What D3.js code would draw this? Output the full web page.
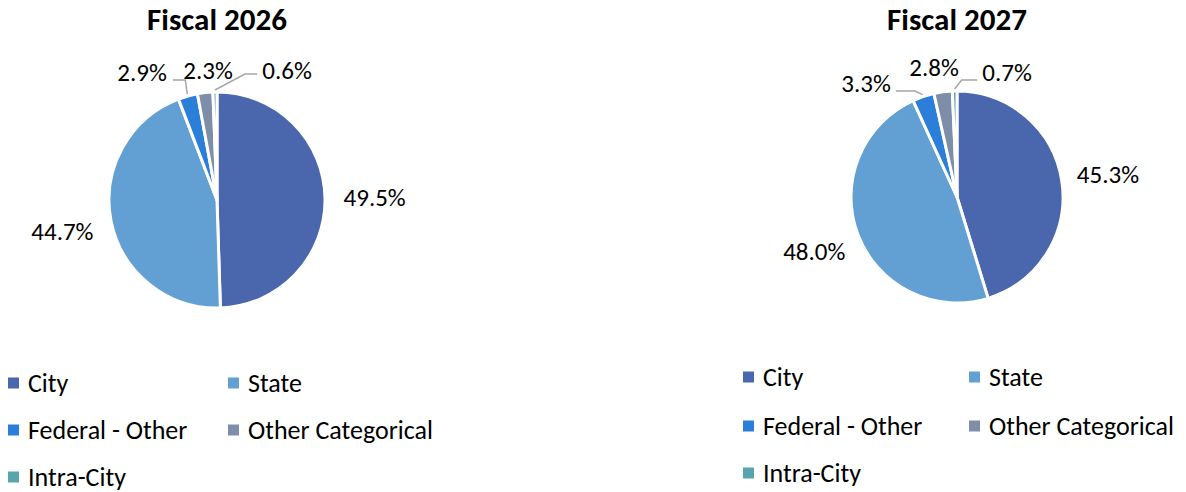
<!DOCTYPE html>
<html><head><meta charset="utf-8">
<script src="https://cdn.jsdelivr.net/npm/d3@7"></script>
<style>
body{margin:0;background:#fff;}
text{font-family:Carlito,Calibri,Lato,"Open Sans",sans-serif;fill:#000;}
</style></head>
<body><svg id="c" width="1186" height="492"></svg>
<script>
const categories = ["City","State","Federal - Other","Other Categorical","Intra-City"];
const colors = ["#4a66ad","#62a0d4","#2b7fd8","#7f8ea8","#5aa4ad"];
const titles = ["Fiscal 2026","Fiscal 2027"];
const values2026 = [49.5,44.7,2.9,2.3,0.6];
const values2027 = [45.3,48.0,3.3,2.8,0.7];

// layout (positions only)
const layouts = [
  {cx:217, cy:200, r:108, titleY:30, labelR:1.46,
   legendX:[8,228], legendY:[383,430,477],
   small:{2:{dx:-75,dy:-128,leader:true,ly:8,gap:6,elbow:-2},
          3:{dx:-9,dy:-130,leader:false},
          4:{dx:70,dy:-130,leader:true,ly:4,gap:5,elbow:30}}},
  {cx:957, cy:197, r:106, titleY:30, labelR:1.44,
   legendX:[743,969], legendY:[377,426,473],
   small:{2:{dx:-91,dy:-114,leader:true,ly:8,gap:5,elbow:-8},
          3:{dx:-23,dy:-130,leader:false},
          4:{dx:50,dy:-125,leader:true,ly:8,gap:5,elbow:7}}}
];
const datasets = [values2026, values2027];

const svg = d3.select("#c");
const pie = d3.pie().sort(null).value(d=>d);

datasets.forEach((vals,i)=>{
  const L = layouts[i];
  const g = svg.append("g").attr("transform",`translate(${L.cx},${L.cy})`);
  const arc = d3.arc().innerRadius(0).outerRadius(L.r);
  const arcs = pie(vals);
  g.selectAll("path").data(arcs).join("path")
    .attr("d",arc).attr("fill",(d,k)=>colors[k])
    .attr("stroke","#fff").attr("stroke-width",3).attr("stroke-linejoin","round");

  svg.append("text").attr("x",L.cx).attr("y",L.titleY).attr("text-anchor","middle")
    .attr("font-size",31).attr("font-weight","bold").text(titles[i]);

  arcs.forEach((a,k)=>{
    const mid=(a.startAngle+a.endAngle)/2;
    const label = d3.format(".1f")(a.data)+"%";
    let x,y;
    const s = L.small[k];
    if(s){ x=s.dx; y=s.dy; }
    else { const rr=L.r*L.labelR; x=Math.sin(mid)*rr; y=-Math.cos(mid)*rr; }
    const t = g.append("text").attr("x",x).attr("y",y).attr("dy","0.35em")
      .attr("text-anchor","middle").attr("font-size",25).text(label);
    if(s && s.leader){
      const bb = t.node().getBBox();
      const px=Math.sin(mid)*(L.r+2), py=-Math.cos(mid)*(L.r+2);
      const ly = y+s.ly;
      const ex = x<px ? bb.x+bb.width+s.gap : bb.x-s.gap;
      const elx = px+s.elbow;
      g.append("polyline").attr("points",`${ex},${ly} ${elx},${ly} ${px},${py}`)
        .attr("fill","none").attr("stroke","#a6a6a6").attr("stroke-width",1.5);
    }
  });

  const lg = svg.append("g");
  categories.forEach((c,k)=>{
    const col=k%2,row=Math.floor(k/2);
    const x=L.legendX[col], y=L.legendY[row];
    lg.append("rect").attr("x",x).attr("y",y-5.5).attr("width",11).attr("height",11).attr("fill",colors[k]);
    lg.append("text").attr("x",x+20).attr("y",y).attr("dy","0.35em").attr("font-size",26).text(c);
  });
});
</script></body></html>
